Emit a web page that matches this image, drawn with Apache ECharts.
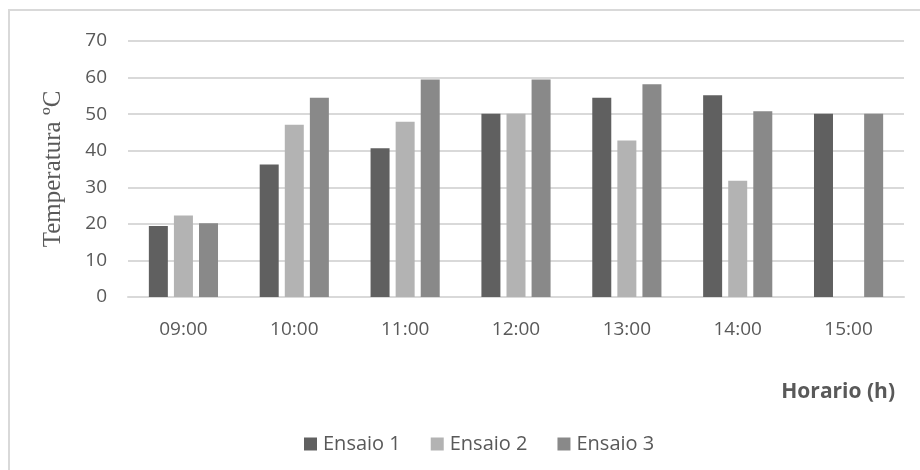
<!DOCTYPE html>
<html>
<head>
<meta charset="utf-8">
<script src="https://cdn.jsdelivr.net/npm/echarts@6/dist/echarts.min.js"></script>
<style>
  html, body { margin: 0; padding: 0; background: #ffffff; }
  #chart { width: 920px; height: 470px; }
</style>
</head>
<body>
<div id="chart"></div>
<script>
// Hourly temperature readings for three trials
const horarios = ['09:00', '10:00', '11:00', '12:00', '13:00', '14:00', '15:00'];
const ensaio1 = [19.4, 36.2, 40.7, 50.1, 54.5, 55.2, 50.1];
const ensaio2 = [22.3, 47.1, 47.9, 50.1, 42.8, 31.8, null];
const ensaio3 = [20.2, 54.5, 59.5, 59.5, 58.2, 50.8, 50.1];
const yTicks = { min: 0, max: 70, step: 10 };

const textColor = '#595959';
const gridColor = '#d9d9d9';
const sansFont = '"Open Sans", "Noto Sans", sans-serif';

const chart = echarts.init(document.getElementById('chart'), null, { renderer: 'canvas' });

function barSeries(name, data, color) {
  return {
    name: name,
    type: 'bar',
    data: data,
    barWidth: 19,
    barGap: '32%',
    itemStyle: { color: color },
    emphasis: { disabled: true }
  };
}

chart.setOption({
  animation: false,
  backgroundColor: '#ffffff',
  textStyle: { fontFamily: sansFont, color: textColor },
  grid: { left: 128, right: 16, top: 41, bottom: 173 },
  legend: {
    left: 299,
    top: 429,
    itemWidth: 13,
    itemHeight: 13,
    itemGap: 30,
    icon: 'rect',
    textStyle: { fontFamily: sansFont, fontSize: 20, color: textColor, padding: [0, 0, 0, 1] },
    data: ['Ensaio 1', 'Ensaio 2', 'Ensaio 3']
  },
  xAxis: {
    type: 'category',
    data: horarios,
    axisLine: { show: true, lineStyle: { color: gridColor, width: 2 } },
    axisTick: { show: false },
    axisLabel: { fontFamily: sansFont, fontSize: 19, color: textColor, margin: 23 }
  },
  yAxis: {
    type: 'value',
    min: yTicks.min,
    max: yTicks.max,
    interval: yTicks.step,
    name: 'Temperatura ºC',
    nameLocation: 'middle',
    nameGap: 62,
    nameTextStyle: { fontFamily: '"Liberation Serif", "DejaVu Serif", serif', fontSize: 25, color: textColor },
    axisLine: { show: false },
    axisTick: { show: false },
    axisLabel: { fontFamily: sansFont, fontSize: 19, color: textColor, margin: 21 },
    splitLine: { lineStyle: { color: gridColor, width: 2 } }
  },
  graphic: [
    {
      type: 'rect',
      silent: true,
      shape: { x: 9, y: 10, width: 930, height: 480 },
      style: { fill: 'none', stroke: gridColor, lineWidth: 2 }
    },
    {
      type: 'text',
      silent: true,
      right: 25,
      top: 382,
      style: {
        text: 'Horario (h)',
        font: 'bold 21px ' + sansFont,
        fill: textColor
      }
    }
  ],
  series: [
    barSeries('Ensaio 1', ensaio1, '#606060'),
    barSeries('Ensaio 2', ensaio2, '#b3b3b3'),
    barSeries('Ensaio 3', ensaio3, '#898989')
  ]
});
</script>
</body>
</html>
